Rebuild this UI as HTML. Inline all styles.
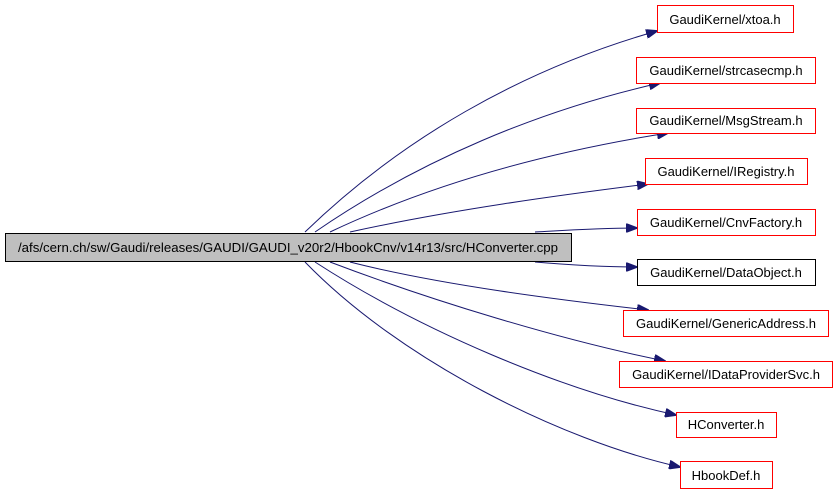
<!DOCTYPE html>
<html><head><meta charset="utf-8"><style>
html,body{margin:0;padding:0;background:#fff;width:837px;height:493px;overflow:hidden}
svg text{font-family:"Liberation Sans","DejaVu Sans",sans-serif;font-size:13px}
</style></head><body>
<svg width="837" height="493" viewBox="0 0 837 493" xmlns="http://www.w3.org/2000/svg">
<defs><marker id="a" markerWidth="12" markerHeight="9" refX="11" refY="4.5" orient="auto" markerUnits="userSpaceOnUse"><path d="M0,0 L12,4.5 L0,9 Z" fill="#191970" stroke="#191970"/></marker></defs>
<g fill="none" stroke="#191970" stroke-width="1" marker-end="url(#a)">
<path d="M305,232 C400,140 520,70 657,31"/>
<path d="M315,232 C420,160 540,110 660,83"/>
<path d="M330,232 C440,180 560,150 668,133"/>
<path d="M350,232 C450,210 560,195 648,184"/>
<path d="M535,232 C570,230 600,228 637,228"/>
<path d="M535,262 C570,265 600,267 637,267"/>
<path d="M350,262 C440,285 560,300 648,310"/>
<path d="M330,262 C430,300 560,340 665,361"/>
<path d="M315,262 C420,330 560,390 676,415"/>
<path d="M305,262 C400,360 560,440 680,467"/>
</g>
<g stroke-width="1">
<rect x="5.5" y="233.5" width="566" height="28" fill="#bfbfbf" stroke="#000"/>
<rect x="657.5" y="5.5" width="136" height="27" fill="#fff" stroke="#f00"/>
<rect x="636.5" y="57.5" width="179" height="26" fill="#fff" stroke="#f00"/>
<rect x="636.5" y="108.5" width="179" height="25" fill="#fff" stroke="#f00"/>
<rect x="645.5" y="158.5" width="162" height="26" fill="#fff" stroke="#f00"/>
<rect x="637.5" y="209.5" width="178" height="26" fill="#fff" stroke="#f00"/>
<rect x="637.5" y="259.5" width="178" height="26" fill="#fff" stroke="#000"/>
<rect x="623.5" y="310.5" width="205" height="26" fill="#fff" stroke="#f00"/>
<rect x="619.5" y="361.5" width="213" height="26" fill="#fff" stroke="#f00"/>
<rect x="676.5" y="412.5" width="100" height="25" fill="#fff" stroke="#f00"/>
<rect x="680.5" y="461.5" width="92" height="27" fill="#fff" stroke="#f00"/>
</g>
<g fill="#000" text-anchor="middle">
<text x="288" y="252" textLength="540" lengthAdjust="spacingAndGlyphs">/afs/cern.ch/sw/Gaudi/releases/GAUDI/GAUDI_v20r2/HbookCnv/v14r13/src/HConverter.cpp</text>
<text x="725" y="24">GaudiKernel/xtoa.h</text>
<text x="726" y="75">GaudiKernel/strcasecmp.h</text>
<text x="726" y="125">GaudiKernel/MsgStream.h</text>
<text x="726" y="176">GaudiKernel/IRegistry.h</text>
<text x="726" y="227">GaudiKernel/CnvFactory.h</text>
<text x="726" y="277">GaudiKernel/DataObject.h</text>
<text x="726" y="328">GaudiKernel/GenericAddress.h</text>
<text x="726" y="379">GaudiKernel/IDataProviderSvc.h</text>
<text x="726" y="429">HConverter.h</text>
<text x="726" y="480">HbookDef.h</text>
</g>
</svg>
</body></html>
